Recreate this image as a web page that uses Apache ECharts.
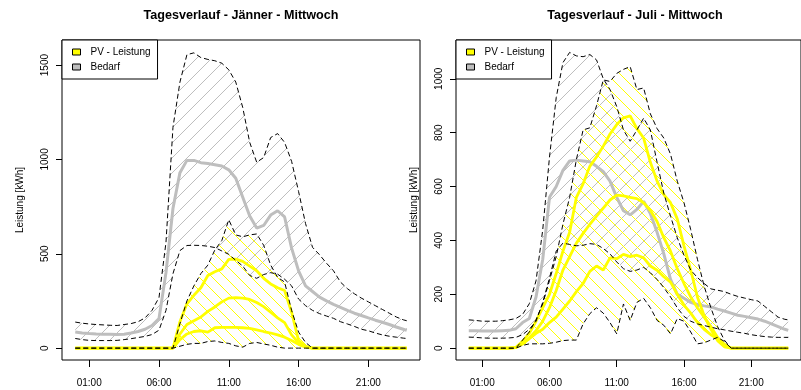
<!DOCTYPE html>
<html>
<head>
<meta charset="utf-8">
<script src="https://cdn.jsdelivr.net/npm/echarts@6/dist/echarts.min.js"></script>
<style>
  html, body { margin: 0; padding: 0; background: #ffffff; }
  #chart { width: 801px; height: 390px; }
</style>
</head>
<body>
<div id="chart"></div>
<script>
// Half-hourly sampling times (hours after midnight)
const hours = [0, 0.5, 1, 1.5, 2, 2.5, 3, 3.5, 4, 4.5, 5, 5.5, 6, 6.5, 7, 7.5, 8, 8.5, 9, 9.5,
  10, 10.5, 11, 11.5, 12, 12.5, 13, 13.5, 14, 14.5, 15, 15.5, 16, 16.5, 17, 17.5, 18, 18.5, 19, 19.5,
  20, 20.5, 21, 21.5, 22, 22.5, 23, 23.5, 23.75];

const tickHours = [1, 6, 11, 16, 21];
const tickLabels = ['01:00', '06:00', '11:00', '16:00', '21:00'];

// ---- Jänner ----
const janBedarfMax = [138, 132, 128, 125, 123, 121, 120, 125, 130, 140, 160, 200, 268, 560, 1170, 1410, 1555, 1565, 1540, 1530,
  1523, 1510, 1475, 1410, 1275, 1090, 985, 1010, 1116, 1137, 1090, 990, 830, 660, 534, 495, 450, 410, 350, 315,
  288, 265, 245, 225, 205, 185, 165, 150, 145];
const janBedarfMittel = [85, 80, 77, 75, 74, 73, 72, 74, 80, 88, 100, 120, 157, 400, 740, 930, 995, 995, 983, 978,
  972, 965, 945, 900, 800, 700, 636, 650, 705, 728, 695, 530, 410, 330, 300, 270, 250, 232, 216, 200,
  185, 173, 160, 148, 137, 125, 112, 100, 94];
const janBedarfMin = [51, 45, 41, 40, 40, 40, 41, 45, 50, 56, 62, 72, 95, 200, 394, 517, 544, 545, 544, 540,
  533, 515, 497, 465, 435, 385, 370, 390, 400, 392, 365, 330, 260, 225, 200, 183, 170, 158, 140, 128,
  115, 100, 92, 80, 70, 63, 58, 53, 51];
const janPvMax = [0, 0, 0, 0, 0, 0, 0, 0, 0, 0, 0, 0, 0, 0, 0, 130, 250, 330, 395, 440,
  520, 570, 680, 600, 590, 600, 605, 545, 440, 375, 350, 200, 85, 30, 0, 0, 0, 0, 0, 0,
  0, 0, 0, 0, 0, 0, 0, 0, 0];
const janPvMin = [0, 0, 0, 0, 0, 0, 0, 0, 0, 0, 0, 0, 0, 0, 0, 10, 20, 25, 25, 35,
  38, 30, 25, 12, 5, 25, 30, 22, 15, 5, 0, 0, 0, 0, 0, 0, 0, 0, 0, 0,
  0, 0, 0, 0, 0, 0, 0, 0, 0];
const janPvHoch = [0, 0, 0, 0, 0, 0, 0, 0, 0, 0, 0, 0, 0, 0, 0, 140, 235, 280, 320, 385,
  405, 420, 470, 472, 460, 435, 410, 370, 340, 320, 305, 190, 40, 8, 0, 0, 0, 0, 0, 0,
  0, 0, 0, 0, 0, 0, 0, 0, 0];
const janPvMitte = [0, 0, 0, 0, 0, 0, 0, 0, 0, 0, 0, 0, 0, 0, 0, 75, 125, 145, 165, 195,
  218, 245, 265, 268, 265, 258, 242, 220, 190, 160, 135, 70, 28, 8, 0, 0, 0, 0, 0, 0,
  0, 0, 0, 0, 0, 0, 0, 0, 0];
const janPvNieder = [0, 0, 0, 0, 0, 0, 0, 0, 0, 0, 0, 0, 0, 0, 0, 45, 75, 88, 92, 85,
  108, 110, 110, 110, 108, 105, 97, 88, 80, 70, 58, 40, 20, 5, 0, 0, 0, 0, 0, 0,
  0, 0, 0, 0, 0, 0, 0, 0, 0];

// ---- Juli ----
const juliBedarfMax = [105, 103, 100, 100, 100, 102, 105, 110, 125, 165, 250, 440, 709, 930, 1060, 1098, 1085, 1082, 1090, 1070,
  1000, 960, 897, 810, 768, 810, 854, 810, 690, 575, 490, 410, 345, 290, 262, 240, 220, 215, 210, 200,
  192, 186, 180, 175, 155, 135, 115, 107, 105];
const juliBedarfMittel = [65, 65, 64, 64, 64, 65, 66, 72, 95, 110, 190, 330, 560, 600, 660, 695, 698, 695, 692, 675,
  655, 620, 560, 510, 495, 515, 545, 500, 430, 350, 255, 200, 185, 170, 162, 157, 153, 145, 138, 130,
  122, 118, 113, 108, 100, 90, 80, 70, 66];
const juliBedarfMin = [41, 40, 38, 37, 37, 37, 38, 40, 50, 70, 100, 170, 260, 360, 390, 385, 380, 382, 388, 385,
  370, 350, 320, 295, 285, 290, 300, 280, 255, 225, 190, 150, 118, 100, 90, 84, 78, 72, 68, 63,
  59, 55, 50, 46, 43, 41, 40, 40, 40];
const juliPvMax = [0, 0, 0, 0, 0, 0, 0, 0, 30, 60, 105, 165, 251, 340, 460, 560, 700, 810, 818, 900,
  996, 990, 1020, 1035, 1045, 960, 966, 870, 815, 780, 720, 620, 540, 440, 330, 230, 150, 80, 30, 0,
  0, 0, 0, 0, 0, 0, 0, 0, 0];
const juliPvMin = [0, 0, 0, 0, 0, 0, 0, 0, 10, 16, 16, 16, 18, 22, 28, 30, 30, 90, 128, 150,
  130, 95, 53, 164, 103, 170, 185, 150, 103, 85, 53, 110, 100, 60, 16, 20, 30, 40, 25, 0,
  0, 0, 0, 0, 0, 0, 0, 0, 0];
const juliPvHoch = [0, 0, 0, 0, 0, 0, 0, 3, 25, 55, 100, 150, 200, 277, 360, 430, 560, 610, 675, 710,
  750, 795, 830, 855, 862, 815, 780, 690, 620, 570, 540, 480, 380, 290, 190, 120, 70, 28, 5, 0,
  0, 0, 0, 0, 0, 0, 0, 0, 0];
const juliPvMitte = [0, 0, 0, 0, 0, 0, 0, 2, 15, 38, 65, 100, 150, 214, 290, 340, 390, 426, 460, 490,
  520, 550, 568, 565, 560, 555, 540, 512, 470, 410, 360, 295, 240, 190, 150, 115, 80, 40, 12, 0,
  0, 0, 0, 0, 0, 0, 0, 0, 0];
const juliPvNieder = [0, 0, 0, 0, 0, 0, 0, 2, 18, 35, 55, 70, 95, 115, 145, 175, 210, 240, 285, 305,
  290, 335, 332, 348, 340, 345, 335, 305, 289, 265, 245, 200, 160, 130, 95, 70, 50, 35, 15, 0,
  0, 0, 0, 0, 0, 0, 0, 0, 0];

const janYTicks = [0, 500, 1000, 1500];
const juliYTicks = [0, 200, 400, 600, 800, 1000];

const FONT = '"Liberation Sans", Arial, Helvetica, sans-serif';
const GRAY = '#BEBEBE';
const YELLOW = '#FFFF00';

const panels = [
  {
    title: 'Tagesverlauf - Jänner - Mittwoch', left: 62, yMin: -63, yMax: 1633, yTicks: janYTicks,
    bedarfMax: janBedarfMax, bedarfMittel: janBedarfMittel, bedarfMin: janBedarfMin,
    pvMax: janPvMax, pvMin: janPvMin, pvLines: [janPvHoch, janPvMitte, janPvNieder]
  },
  {
    title: 'Tagesverlauf - Juli - Mittwoch', left: 456, yMin: -44, yMax: 1144, yTicks: juliYTicks,
    bedarfMax: juliBedarfMax, bedarfMittel: juliBedarfMittel, bedarfMin: juliBedarfMin,
    pvMax: juliPvMax, pvMin: juliPvMin, pvLines: [juliPvHoch, juliPvMitte, juliPvNieder]
  }
];

const PLOT_W = 358, PLOT_TOP = 40, PLOT_H = 320;

const pts = arr => hours.map((h, i) => [h, arr[i]]);

// Shaded range between lo and hi, drawn as parallel diagonal hatch lines.
// dir = 1 gives "/" lines (x + y = c), dir = -1 gives "\" lines (x - y = c).
function hatchSeries(i, name, lo, hi, color, step, dir) {
  return {
    type: 'custom', name: name, xAxisIndex: i, yAxisIndex: i, silent: true, clip: true,
    animation: false,
    itemStyle: { color: color },
    data: [[hours[0], lo[0]]],
    renderItem: function (params, api) {
      const poly = [];
      hours.forEach((h, k) => poly.push(api.coord([h, hi[k]])));
      for (let k = hours.length - 1; k >= 0; k--) poly.push(api.coord([hours[k], lo[k]]));
      const proj = p => p[0] + dir * p[1];
      let cMin = Infinity, cMax = -Infinity;
      poly.forEach(p => { const c = proj(p); if (c < cMin) cMin = c; if (c > cMax) cMax = c; });
      let d = '';
      for (let c = Math.ceil(cMin / step) * step; c <= cMax; c += step) {
        const xs = [];
        for (let j = 0; j < poly.length; j++) {
          const a = poly[j], b = poly[(j + 1) % poly.length];
          const fa = proj(a) - c, fb = proj(b) - c;
          if ((fa < 0) !== (fb < 0)) {
            const t = fa / (fa - fb);
            xs.push(a[0] + t * (b[0] - a[0]));
          }
        }
        xs.sort((u, v) => u - v);
        for (let m = 0; m + 1 < xs.length; m += 2) {
          const x1 = xs[m], x2 = xs[m + 1];
          if (x2 - x1 < 0.01) continue;
          const y1 = dir * (c - x1), y2 = dir * (c - x2);
          d += 'M' + x1.toFixed(2) + ' ' + y1.toFixed(2) + 'L' + x2.toFixed(2) + ' ' + y2.toFixed(2);
        }
      }
      return {
        type: 'path',
        shape: { pathData: d || 'M0 0' },
        style: { fill: 'none', stroke: color, lineWidth: 1 }
      };
    }
  };
}

function panelSeries(p, i) {
  const ax = { xAxisIndex: i, yAxisIndex: i, symbol: 'none', silent: true, animation: false };
  const list = [];
  list.push(hatchSeries(i, 'Bedarf', p.bedarfMin, p.bedarfMax, GRAY, 15, 1));
  list.push(hatchSeries(i, 'PV - Leistung', p.pvMin, p.pvMax, YELLOW, 13, -1));
  // typical demand curve
  list.push(Object.assign({ type: 'line', name: 'bedarfMittel' + i, data: pts(p.bedarfMittel),
    lineStyle: { color: GRAY, width: 3 }, itemStyle: { color: GRAY } }, ax));
  // PV curves
  p.pvLines.forEach((arr, k) => {
    list.push(Object.assign({ type: 'line', name: 'pv' + k + '_' + i, data: pts(arr),
      lineStyle: { color: YELLOW, width: 2.8 }, itemStyle: { color: YELLOW } }, ax));
  });
  // dashed envelopes
  [p.bedarfMax, p.bedarfMin, p.pvMax, p.pvMin].forEach((arr, k) => {
    list.push(Object.assign({ type: 'line', name: 'rand' + k + '_' + i, data: pts(arr),
      lineStyle: { color: '#000', width: 1, type: [5, 3] }, itemStyle: { color: '#000' } }, ax));
  });
  return list;
}

const textBase = { fontFamily: FONT, color: '#000' };

const option = {
  animation: false,
  backgroundColor: '#ffffff',
  title: panels.map(p => ({
    text: p.title,
    left: p.left + PLOT_W / 2,
    top: 9,
    textAlign: 'center',
    padding: 0,
    textStyle: Object.assign({ fontSize: 12.6, fontWeight: 'bold' }, textBase)
  })),
  legend: panels.map(p => ({
    left: p.left,
    top: PLOT_TOP,
    orient: 'vertical',
    backgroundColor: '#ffffff',
    borderColor: '#000',
    borderWidth: 1,
    borderRadius: 0,
    padding: [6, 7, 6, 10],
    itemWidth: 8,
    itemHeight: 6,
    itemGap: 3,
    selectedMode: false,
    textStyle: Object.assign({ fontSize: 10, lineHeight: 12, padding: [0, 0, 0, 5] }, textBase),
    data: [
      { name: 'PV - Leistung', icon: 'rect', itemStyle: { color: YELLOW, borderColor: '#000', borderWidth: 1 } },
      { name: 'Bedarf', icon: 'rect', itemStyle: { color: GRAY, borderColor: '#000', borderWidth: 1 } }
    ]
  })),
  grid: panels.map(p => ({
    left: p.left, top: PLOT_TOP, width: PLOT_W, height: PLOT_H,
    show: true, borderColor: '#000', borderWidth: 1, backgroundColor: 'transparent'
  })),
  xAxis: panels.map((p, i) => ({
    type: 'value', gridIndex: i, min: -0.95, max: 24.7,
    axisLine: { show: false, onZero: false },
    splitLine: { show: false },
    axisTick: { show: true, customValues: tickHours, length: 7, lineStyle: { color: '#000', width: 1 } },
    axisLabel: {
      customValues: tickHours, margin: 18, fontSize: 10, fontFamily: FONT, color: '#000',
      formatter: v => tickLabels[tickHours.indexOf(v)]
    }
  })),
  yAxis: panels.map((p, i) => ({
    type: 'value', gridIndex: i, min: p.yMin, max: p.yMax,
    name: 'Leistung [kWh]', nameLocation: 'middle', nameRotate: 90, nameGap: 37,
    nameTextStyle: Object.assign({ fontSize: 10 }, textBase),
    axisLine: { show: false, onZero: false },
    splitLine: { show: false },
    axisTick: { show: true, customValues: p.yTicks, length: 6, lineStyle: { color: '#000', width: 1 } },
    axisLabel: {
      customValues: p.yTicks, rotate: 90, margin: 12, fontSize: 10, fontFamily: FONT, color: '#000',
      formatter: v => String(v)
    }
  })),
  series: panels.flatMap(panelSeries)
};

const chart = echarts.init(document.getElementById('chart'), null, { renderer: 'canvas' });
chart.setOption(option);
</script>
</body>
</html>
